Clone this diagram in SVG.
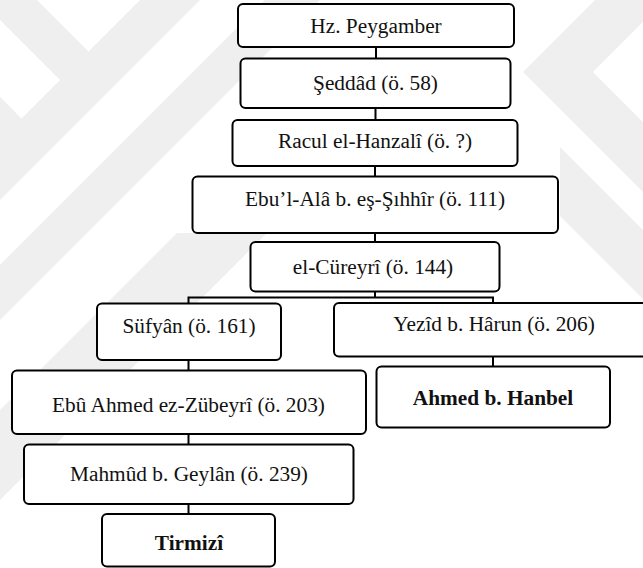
<svg xmlns="http://www.w3.org/2000/svg" width="643" height="568" viewBox="0 0 643 568">
  <style>
    .box { fill: #ffffff; stroke: #000000; stroke-width: 2; }
    .lbl { font-family: "Liberation Serif", "Times New Roman", serif; font-size: 20.5px; fill: #111111; text-anchor: middle; }
    .bold { font-weight: bold; }
    .wire { fill: none; stroke: #000000; stroke-width: 2; }
    .mark { fill: #efefef; }
  </style>

  <!-- faint background emblem -->
  <g id="watermark">
    <polygon class="mark" points="0,0 37,0 90,53 61.5,81.5 0,20"/>
    <polygon class="mark" points="140,0 200,0 0,200 0,140"/>
    <polygon class="mark" points="0,97 21.5,118.5 0,140"/>
    <polygon class="mark" points="265,0 320,0 0,320 0,265"/>
    <polygon class="mark" points="177,233 267,233 0,500 0,410"/>
    <polygon class="mark" points="595,0 665,0 593,72 643,122 643,192 523,72"/>
    <polygon class="mark" points="560,147 643,230 643,299 560,216"/>
  </g>

  <!-- connectors -->
  <g id="connectors">
    <path class="wire" d="M376,47 V58.5 M375.5,108 V120 M375,166 V176.5 M375,233 V242"/>
    <path class="wire" d="M375,291.5 V297.5 M188.5,297.5 H493 M188.5,296.5 V303.5 M493,296.5 V303"/>
    <path class="wire" d="M188.5,360 V370.5 M188.5,434 V444.5 M188.5,504 V514"/>
    <path class="wire" d="M493,356.5 V366.5"/>
  </g>

  <g id="n-peygamber">
    <rect class="box" x="238" y="4" width="276" height="43" rx="5"/>
    <text class="lbl" transform="translate(376 32.5) scale(1.04 1)">Hz. Peygamber</text>
  </g>
  <g id="n-seddad">
    <rect class="box" x="240.5" y="58.5" width="270" height="49.5" rx="5"/>
    <text class="lbl" transform="translate(375.5 90) scale(1.04 1)">Şeddâd (ö. 58)</text>
  </g>
  <g id="n-racul">
    <rect class="box" x="232.5" y="120" width="285" height="46" rx="5"/>
    <text class="lbl" transform="translate(375 147.5) scale(1.04 1)">Racul el-Hanzalî (ö. ?)</text>
  </g>
  <g id="n-ebulala">
    <rect class="box" x="192.5" y="176.5" width="365.5" height="56.5" rx="5"/>
    <text class="lbl" transform="translate(375 205.5) scale(1.04 1)">Ebu’l-Alâ b. eş-Şıhhîr (ö. 111)</text>
  </g>
  <g id="n-cureyri">
    <rect class="box" x="250.5" y="242" width="249" height="49.5" rx="5"/>
    <text class="lbl" transform="translate(373 274) scale(1.04 1)">el-Cüreyrî (ö. 144)</text>
  </g>
  <g id="n-sufyan">
    <rect class="box" x="97" y="303.5" width="184" height="56.5" rx="5"/>
    <text class="lbl" transform="translate(189 333) scale(1.04 1)">Süfyân (ö. 161)</text>
  </g>
  <g id="n-yezid">
    <rect class="box" x="334" y="303" width="320" height="53.5" rx="5"/>
    <text class="lbl" transform="translate(494 331) scale(1.04 1)">Yezîd b. Hârun (ö. 206)</text>
  </g>
  <g id="n-zubeyri">
    <rect class="box" x="12" y="370.5" width="354" height="63.5" rx="5"/>
    <text class="lbl" transform="translate(188.5 412) scale(1.04 1)">Ebû Ahmed ez-Zübeyrî (ö. 203)</text>
  </g>
  <g id="n-hanbel">
    <rect class="box" x="376.5" y="366.5" width="233.5" height="61" rx="5"/>
    <text class="lbl bold" transform="translate(493 405) scale(1.04 1)">Ahmed b. Hanbel</text>
  </g>
  <g id="n-geylan">
    <rect class="box" x="24" y="444.5" width="329.5" height="59.5" rx="5"/>
    <text class="lbl" transform="translate(189 481) scale(1.04 1)">Mahmûd b. Geylân (ö. 239)</text>
  </g>
  <g id="n-tirmizi">
    <rect class="box" x="102" y="514" width="173" height="52.5" rx="5"/>
    <text class="lbl bold" transform="translate(189 550) scale(1.04 1)">Tirmizî</text>
  </g>
</svg>
